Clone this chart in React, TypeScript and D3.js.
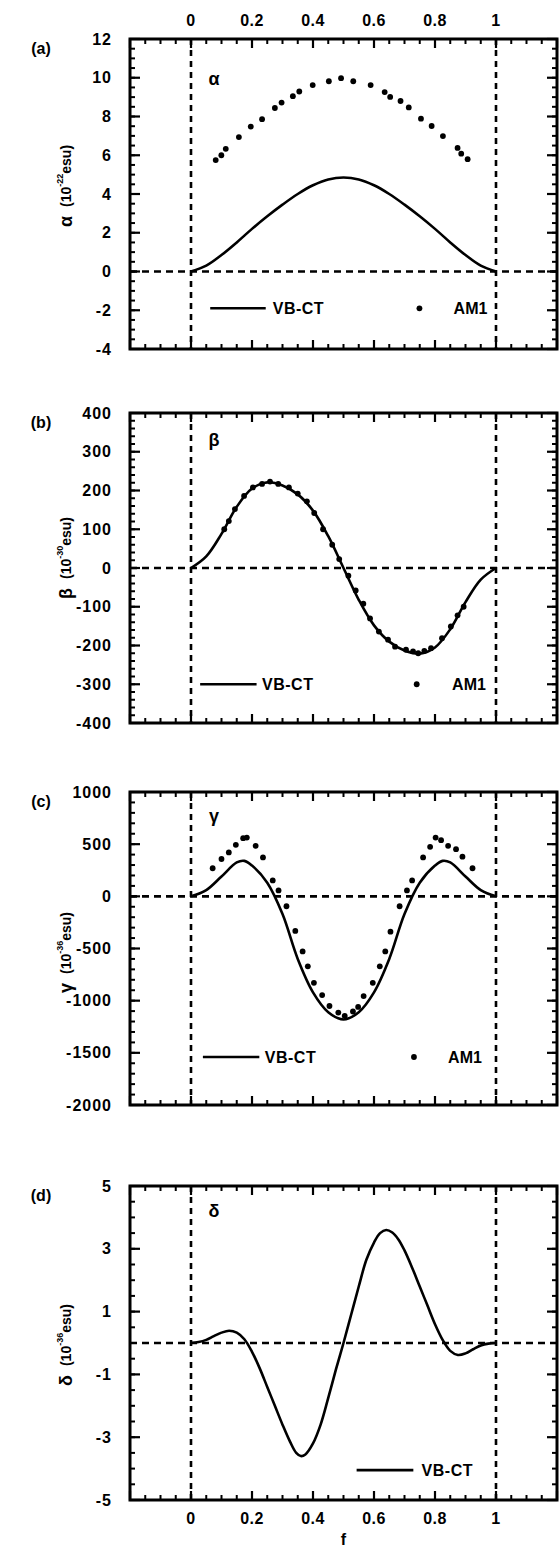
import React from 'react';
import * as d3 from 'd3';

// ---------- data ----------
const xTickLabels = [0, 0.2, 0.4, 0.6, 0.8, 1];

const alphaF = [0, 0.05, 0.1, 0.15, 0.2, 0.25, 0.3, 0.35, 0.4, 0.45, 0.5, 0.55, 0.6, 0.65, 0.7, 0.75, 0.8, 0.85, 0.9, 0.95, 1];
const alphaVB = [0, 0.3, 0.85, 1.5, 2.2, 2.85, 3.45, 4.0, 4.45, 4.75, 4.85, 4.75, 4.45, 4.0, 3.45, 2.85, 2.2, 1.5, 0.85, 0.3, 0];
const alphaAM1F = [0.081, 0.0995, 0.114, 0.157, 0.196, 0.233, 0.275, 0.297, 0.334, 0.355, 0.399, 0.452, 0.492, 0.532, 0.589, 0.635, 0.653, 0.687, 0.714, 0.754, 0.789, 0.826, 0.874, 0.886, 0.907];
const alphaAM1 = [5.75, 6.0, 6.33, 6.94, 7.48, 7.86, 8.44, 8.72, 9.05, 9.29, 9.62, 9.82, 9.98, 9.82, 9.62, 9.26, 9.01, 8.8, 8.47, 7.89, 7.51, 6.99, 6.38, 6.08, 5.8];
const alphaTicks = [12, 10, 8, 6, 4, 2, 0, -2, -4];

const betaF = [0, 0.05, 0.1, 0.15, 0.2, 0.25, 0.3, 0.35, 0.4, 0.45, 0.5, 0.55, 0.6, 0.65, 0.7, 0.75, 0.8, 0.85, 0.9, 0.95, 1];
const betaVB = [0, 30, 88, 158, 205, 221, 213, 190, 148, 82, 0, -82, -148, -190, -213, -221, -205, -158, -88, -30, 0];
const betaAM1F = [0.109, 0.124, 0.144, 0.174, 0.203, 0.233, 0.259, 0.286, 0.321, 0.35, 0.38, 0.404, 0.433, 0.463, 0.486, 0.516, 0.54, 0.565, 0.587, 0.616, 0.646, 0.669, 0.705, 0.728, 0.745, 0.765, 0.787, 0.823, 0.852, 0.874, 0.894];
const betaAM1 = [100, 121, 152, 186, 208, 217, 223, 217, 208, 192, 172, 142, 100, 60, 23, -20, -58, -92, -130, -164, -185, -203, -211, -215, -220, -214, -207, -181, -151, -122, -100];
const betaTicks = [400, 300, 200, 100, 0, -100, -200, -300, -400];

const gammaF = [0, 0.05, 0.1, 0.15, 0.175, 0.2, 0.25, 0.3, 0.35, 0.4, 0.45, 0.5, 0.55, 0.6, 0.65, 0.7, 0.75, 0.8, 0.825, 0.85, 0.9, 0.95, 1];
const gammaVB = [0, 60, 190, 325, 340, 295, 130, -170, -600, -920, -1110, -1180, -1110, -920, -600, -170, 130, 295, 340, 325, 190, 60, 0];
const gammaAM1F = [0.071, 0.1, 0.124, 0.147, 0.171, 0.183, 0.212, 0.236, 0.268, 0.287, 0.313, 0.342, 0.366, 0.383, 0.403, 0.43, 0.454, 0.483, 0.504, 0.531, 0.548, 0.566, 0.596, 0.619, 0.637, 0.654, 0.684, 0.708, 0.725, 0.761, 0.784, 0.802, 0.82, 0.843, 0.869, 0.89, 0.923];
const gammaAM1 = [269, 358, 421, 494, 557, 563, 484, 373, 152, 57, -95, -332, -528, -671, -829, -946, -1051, -1114, -1146, -1104, -1060, -956, -829, -671, -528, -339, -95, 57, 152, 373, 475, 563, 538, 484, 452, 380, 269];
const gammaTicks = [1000, 500, 0, -500, -1000, -1500, -2000];

const deltaF = [0, 0.025, 0.05, 0.075, 0.1, 0.125, 0.15, 0.175, 0.2, 0.225, 0.25, 0.275, 0.3, 0.325, 0.345, 0.36, 0.375, 0.4, 0.425, 0.45, 0.475, 0.5,
  0.525, 0.55, 0.575, 0.6, 0.62, 0.64, 0.66, 0.68, 0.7, 0.725, 0.75, 0.775, 0.8, 0.825, 0.85, 0.875, 0.9, 0.925, 0.95, 0.975, 1];
const deltaVB = [0, 0.03, 0.1, 0.22, 0.33, 0.39, 0.33, 0.12, -0.28, -0.8, -1.4, -2.0, -2.6, -3.15, -3.5, -3.6, -3.55, -3.2, -2.6, -1.75, -0.85, 0,
  0.9, 1.8, 2.65, 3.2, 3.5, 3.6, 3.52, 3.3, 2.95, 2.4, 1.8, 1.2, 0.6, 0.1, -0.25, -0.38, -0.33, -0.2, -0.08, -0.02, 0];
const deltaTicks = [5, 3, 1, -1, -3, -5];

// ---------- layout ----------
const W = 560;
const H = 1553;
const FONT = "'Liberation Sans', Arial, sans-serif";

type PanelCfg = {
  letter: string;
  greek: string;
  exp: string;
  top: number;
  bottom: number;
  domain: [number, number];
  ticks: number[];
  minorStep: number;
  vbF: number[];
  vb: number[];
  am1F?: number[];
  am1?: number[];
  legend: { line: [number, number]; text: number; dot?: number; am1Text?: number; v: number };
  greekDy: number;
  titleDy: number;
};

const panels: PanelCfg[] = [
  {
    letter: '(a)', greek: 'α', exp: '-22', top: 39, bottom: 349, domain: [-4, 12], ticks: alphaTicks, minorStep: 0.5,
    vbF: alphaF, vb: alphaVB, am1F: alphaAM1F, am1: alphaAM1,
    legend: { line: [0.063, 0.245], text: 0.268, dot: 0.749, am1Text: 0.861, v: -1.9 }, greekDy: 40, titleDy: -8,
  },
  {
    letter: '(b)', greek: 'β', exp: '-30', top: 413, bottom: 723, domain: [-400, 400], ticks: betaTicks, minorStep: 20,
    vbF: betaF, vb: betaVB, am1F: betaAM1F, am1: betaAM1,
    legend: { line: [0.03, 0.215], text: 0.233, dot: 0.74, am1Text: 0.856, v: -300 }, greekDy: 27, titleDy: -10,
  },
  {
    letter: '(c)', greek: 'γ', exp: '-36', top: 792, bottom: 1105, domain: [-2000, 1000], ticks: gammaTicks, minorStep: 100,
    vbF: gammaF, vb: gammaVB, am1F: gammaAM1F, am1: gammaAM1,
    legend: { line: [0.039, 0.224], text: 0.242, dot: 0.731, am1Text: 0.843, v: -1540 }, greekDy: 24, titleDy: 4,
  },
  {
    letter: '(d)', greek: 'δ', exp: '-36', top: 1186, bottom: 1500, domain: [-5, 5], ticks: deltaTicks, minorStep: 0.5,
    vbF: deltaF, vb: deltaVB,
    legend: { line: [0.543, 0.729], text: 0.756, v: -4.05 }, greekDy: 25, titleDy: 2,
  },
];

const x = d3.scaleLinear().domain([-0.2, 1.2]).range([130, 557]);
const xMajor = d3.range(-0.2, 1.2001, 0.2);
const xMinor = d3.range(-0.2, 1.2001, 0.05);

const SW = 2.6;

function Panel({ cfg, showTop, showBottom }: { cfg: PanelCfg; showTop: boolean; showBottom: boolean }) {
  const y = d3.scaleLinear().domain(cfg.domain).range([cfg.bottom, cfg.top]);
  const line = d3
    .line<number>()
    .x((_, i) => x(cfg.vbF[i]))
    .y((d) => y(d))
    .curve(d3.curveCatmullRom.alpha(0.5));
  const [x0, x1] = x.range();
  const yMinor = d3.range(cfg.domain[0], cfg.domain[1] + cfg.minorStep / 2, cfg.minorStep);
  const midY = (cfg.top + cfg.bottom) / 2 + cfg.titleDy;
  const lg = cfg.legend;
  return (
    <g>
      {yMinor.map((v, i) => (
        <g key={'ym' + i}>
          <line x1={x0} x2={x0 + 5} y1={y(v)} y2={y(v)} stroke="#000" strokeWidth={2} />
          <line x1={x1} x2={x1 - 5} y1={y(v)} y2={y(v)} stroke="#000" strokeWidth={2} />
        </g>
      ))}
      {cfg.ticks.map((v) => (
        <g key={'yM' + v}>
          <line x1={x0} x2={x0 + 10} y1={y(v)} y2={y(v)} stroke="#000" strokeWidth={2.2} />
          <line x1={x1} x2={x1 - 10} y1={y(v)} y2={y(v)} stroke="#000" strokeWidth={2.2} />
          <text x={112} y={y(v)} textAnchor="end" dominantBaseline="central" fontSize={16} fontWeight="bold" letterSpacing={1} fontFamily={FONT}>
            {v}
          </text>
        </g>
      ))}
      {xMinor.map((v, i) => (
        <g key={'xm' + i}>
          <line x1={x(v)} x2={x(v)} y1={cfg.top} y2={cfg.top + 5} stroke="#000" strokeWidth={2} />
          <line x1={x(v)} x2={x(v)} y1={cfg.bottom} y2={cfg.bottom - 5} stroke="#000" strokeWidth={2} />
        </g>
      ))}
      {xMajor.map((v, i) => (
        <g key={'xM' + i}>
          <line x1={x(v)} x2={x(v)} y1={cfg.top} y2={cfg.top + 9} stroke="#000" strokeWidth={2.2} />
          <line x1={x(v)} x2={x(v)} y1={cfg.bottom} y2={cfg.bottom - 9} stroke="#000" strokeWidth={2.2} />
        </g>
      ))}
      <line x1={x0} x2={x1} y1={y(0)} y2={y(0)} stroke="#000" strokeWidth={SW} strokeDasharray="7,5" />
      <line x1={x(0)} x2={x(0)} y1={cfg.top} y2={cfg.bottom} stroke="#000" strokeWidth={SW} strokeDasharray="6,5" />
      <line x1={x(1)} x2={x(1)} y1={cfg.top} y2={cfg.bottom} stroke="#000" strokeWidth={SW} strokeDasharray="6,5" />
      <rect x={x0} y={cfg.top} width={x1 - x0} height={cfg.bottom - cfg.top} fill="none" stroke="#000" strokeWidth={3} />
      <path d={line(cfg.vb) || ''} fill="none" stroke="#000" strokeWidth={SW} />
      {cfg.am1 &&
        cfg.am1.map((v, i) => <circle key={'p' + i} cx={x(cfg.am1F![i])} cy={y(v)} r={2.9} fill="#000" />)}
      <line x1={x(lg.line[0])} x2={x(lg.line[1])} y1={y(lg.v)} y2={y(lg.v)} stroke="#000" strokeWidth={SW} />
      <text x={x(lg.text)} y={y(lg.v)} dominantBaseline="central" fontSize={16} fontWeight="bold" letterSpacing={0.5} fontFamily={FONT}>
        VB-CT
      </text>
      {lg.dot !== undefined && <circle cx={x(lg.dot)} cy={y(lg.v)} r={2.9} fill="#000" />}
      {lg.am1Text !== undefined && (
        <text x={x(lg.am1Text)} y={y(lg.v)} dominantBaseline="central" fontSize={16} fontWeight="bold" fontFamily={FONT}>
          AM1
        </text>
      )}
      <text x={214} y={cfg.top + cfg.greekDy} textAnchor="middle" dominantBaseline="central" fontSize={18} fontWeight="bold" fontFamily={FONT}>
        {cfg.greek}
      </text>
      <text x={41} y={cfg.top + 9} textAnchor="middle" dominantBaseline="central" fontSize={16} fontWeight="bold" fontFamily={FONT}>
        {cfg.letter}
      </text>
      <text transform={`translate(66,${midY}) rotate(-90)`} textAnchor="middle" dominantBaseline="central" fontWeight="bold" fontFamily={FONT} fontSize={14}>
        <tspan fontSize={18}>{cfg.greek}</tspan>
        <tspan dx={9}>(10</tspan>
        <tspan dy={-6} fontSize={9}>{cfg.exp}</tspan>
        <tspan dy={6}>esu)</tspan>
      </text>
      {showTop &&
        xTickLabels.map((v) => (
          <text key={'tl' + v} x={x(v)} y={cfg.top - 19} textAnchor="middle" dominantBaseline="central" fontSize={16} fontWeight="bold" letterSpacing={0.5} fontFamily={FONT}>
            {v}
          </text>
        ))}
      {showBottom &&
        xTickLabels.map((v) => (
          <text key={'bl' + v} x={x(v)} y={cfg.bottom + 18} textAnchor="middle" dominantBaseline="central" fontSize={16} fontWeight="bold" letterSpacing={0.5} fontFamily={FONT}>
            {v}
          </text>
        ))}
      {showBottom && (
        <text x={x(0.5)} y={cfg.bottom + 39} textAnchor="middle" dominantBaseline="central" fontSize={16} fontWeight="bold" fontFamily={FONT}>
          f
        </text>
      )}
    </g>
  );
}

export default function App() {
  return (
    <svg width={W} height={H} viewBox={`0 0 ${W} ${H}`} style={{ position: 'absolute', left: 0, top: 0, background: '#fff' }}>
      <rect x={0} y={0} width={W} height={H} fill="#fff" />
      {panels.map((p, i) => (
        <Panel key={p.letter} cfg={p} showTop={i === 0} showBottom={i === panels.length - 1} />
      ))}
    </svg>
  );
}
